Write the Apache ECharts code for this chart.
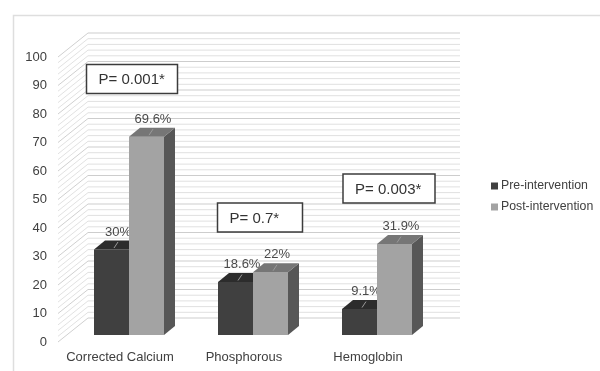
<!DOCTYPE html>
<html>
<head>
<meta charset="utf-8">
<script src="https://cdn.jsdelivr.net/npm/echarts@6/dist/echarts.min.js"></script>
<style>
  html, body { margin: 0; padding: 0; background: #fff; }
  #chart { width: 600px; height: 371px; }
</style>
</head>
<body>
<div id="chart"></div>
<script>
// chart data
const categories = ['Corrected Calcium', 'Phosphorous', 'Hemoglobin'];
const preValues = [30, 18.6, 9.1];
const postValues = [69.6, 22, 31.9];
const pValueLabels = ['P= 0.001*', 'P= 0.7*', 'P= 0.003*'];

// layout of the fake 3D look (pixels)
const FONT = '"Liberation Sans", Arial, sans-serif';
const WALL_DX = 30, WALL_DY = -24;   // depth of the back wall
const SHIFT_X = 9, SHIFT_Y = -7;     // bars stand a bit behind the front edge
const BAR_DX = 11, BAR_DY = -9;      // depth of each bar
const BAR_RATIO = 35 / 124;          // bar width relative to the category band

// where each p-value box sits: offset from category centre (px) and value level
const P_BOX = [
  { dx: 12, level: 92.3, w: 91 },
  { dx: 16, level: 43.7, w: 85 },
  { dx: 21, level: 53.9, w: 92 }
];

const PRE = { front: '#404040', top: '#2c2c2c', side: '#262626' };
const POST = { front: '#a3a3a3', top: '#767676', side: '#575757' };

const chart = echarts.init(document.getElementById('chart'));

function barRenderer(side, colors) {
  return function (params, api) {
    const i = api.value(0);
    const v = api.value(1);
    const base = api.coord([i, 0]);
    const top = api.coord([i, v]);
    const w = api.size([1, 0])[0] * BAR_RATIO;
    const x0 = base[0] + SHIFT_X + (side === 0 ? -w : 0);
    const x1 = x0 + w;
    const yb = base[1] + SHIFT_Y;
    const yt = top[1] + SHIFT_Y;
    const mx = (x0 + x1) / 2 + BAR_DX / 2;
    const my = yt + BAR_DY / 2;
    return {
      type: 'group',
      children: [
        {
          type: 'polygon',
          shape: { points: [[x1, yt], [x1 + BAR_DX, yt + BAR_DY], [x1 + BAR_DX, yb + BAR_DY], [x1, yb]] },
          style: { fill: colors.side }
        },
        {
          type: 'rect',
          shape: { x: x0, y: yt, width: w, height: yb - yt },
          style: { fill: colors.front }
        },
        {
          type: 'polygon',
          shape: { points: [[x0, yt], [x1, yt], [x1 + BAR_DX, yt + BAR_DY], [x0 + BAR_DX, yt + BAR_DY]] },
          style: { fill: colors.top }
        },
        {
          type: 'line',
          shape: { x1: mx - 3, y1: my + 3, x2: mx + 1, y2: my - 3 },
          style: { stroke: '#9a9a9a', lineWidth: 1 }
        },
        {
          type: 'text',
          x: mx + 1,
          y: my - 13,
          style: {
            text: v + '%',
            align: 'center',
            verticalAlign: 'middle',
            fontSize: 13,
            fontFamily: FONT,
            fill: '#4a4a4a'
          }
        }
      ]
    };
  };
}

function wallRenderer(params, api) {
  const cs = params.coordSys;
  const children = [];
  for (let v = 0; v <= 100; v += 2) {
    const y = api.coord([0, v])[1];
    const major = v % 10 === 0;
    // side wall
    children.push({
      type: 'line',
      shape: { x1: cs.x, y1: y, x2: cs.x + WALL_DX, y2: y + WALL_DY },
      style: { stroke: major ? '#d0d0d0' : '#e2e2e2', lineWidth: 1 }
    });
    // back wall
    children.push({
      type: 'line',
      shape: { x1: cs.x + WALL_DX, y1: y + WALL_DY, x2: cs.x + cs.width + WALL_DX, y2: y + WALL_DY },
      style: { stroke: major ? '#cdcdcd' : '#e0e0e0', lineWidth: 1 }
    });
  }
  return { type: 'group', children: children, silent: true };
}

function pBoxRenderer(params, api) {
  const i = api.value(0);
  const box = P_BOX[i];
  const c = api.coord([i, box.level]);
  const cx = c[0] + box.dx;
  const h = 29;
  return {
    type: 'group',
    children: [
      {
        type: 'rect',
        shape: { x: cx - box.w / 2, y: c[1] - h / 2, width: box.w, height: h },
        style: { fill: '#fff', stroke: '#3c3c3c', lineWidth: 1.5 }
      },
      {
        type: 'text',
        x: cx - box.w / 2 + 12,
        y: c[1] + 1,
        style: {
          text: pValueLabels[i],
          align: 'left',
          verticalAlign: 'middle',
          fontSize: 15,
          fontFamily: FONT,
          fill: '#333'
        }
      }
    ]
  };
}

const option = {
  animation: false,
  backgroundColor: '#fff',
  graphic: [
    {
      type: 'rect',
      left: 11,
      top: 13,
      shape: { width: 620, height: 400 },
      style: { fill: 'none', stroke: '#dedede', lineWidth: 1.5 },
      silent: true
    }
  ],
  grid: { left: 58, top: 57, width: 372, height: 285 },
  xAxis: {
    type: 'category',
    data: categories,
    axisLine: { show: false },
    axisTick: { show: false },
    axisLabel: { interval: 0, margin: 9, fontSize: 13, fontFamily: FONT, color: '#404040' }
  },
  yAxis: {
    type: 'value',
    min: 0,
    max: 100,
    interval: 10,
    axisLine: { show: false },
    axisTick: { show: false },
    splitLine: { show: false },
    axisLabel: { margin: 11, fontSize: 13, fontFamily: FONT, color: '#404040' }
  },
  legend: {
    data: ['Pre-intervention', 'Post-intervention'],
    orient: 'vertical',
    left: 486,
    top: 175,
    itemWidth: 7,
    itemHeight: 7,
    itemGap: 9,
    icon: 'rect',
    textStyle: { fontSize: 12.3, fontFamily: FONT, color: '#404040', padding: [0, 0, 0, -2] }
  },
  series: [
    {
      type: 'custom',
      name: 'walls',
      silent: true,
      z: 1,
      renderItem: wallRenderer,
      data: [[0, 0]]
    },
    {
      type: 'custom',
      name: 'Pre-intervention',
      z: 2,
      itemStyle: { color: PRE.front },
      renderItem: barRenderer(0, PRE),
      encode: { x: 0, y: 1 },
      data: preValues.map((v, i) => [i, v])
    },
    {
      type: 'custom',
      name: 'Post-intervention',
      z: 3,
      itemStyle: { color: POST.front },
      renderItem: barRenderer(1, POST),
      encode: { x: 0, y: 1 },
      data: postValues.map((v, i) => [i, v])
    },
    {
      type: 'custom',
      name: 'pvalues',
      z: 4,
      silent: true,
      renderItem: pBoxRenderer,
      data: pValueLabels.map((t, i) => [i, 0])
    }
  ]
};

chart.setOption(option);
</script>
</body>
</html>
